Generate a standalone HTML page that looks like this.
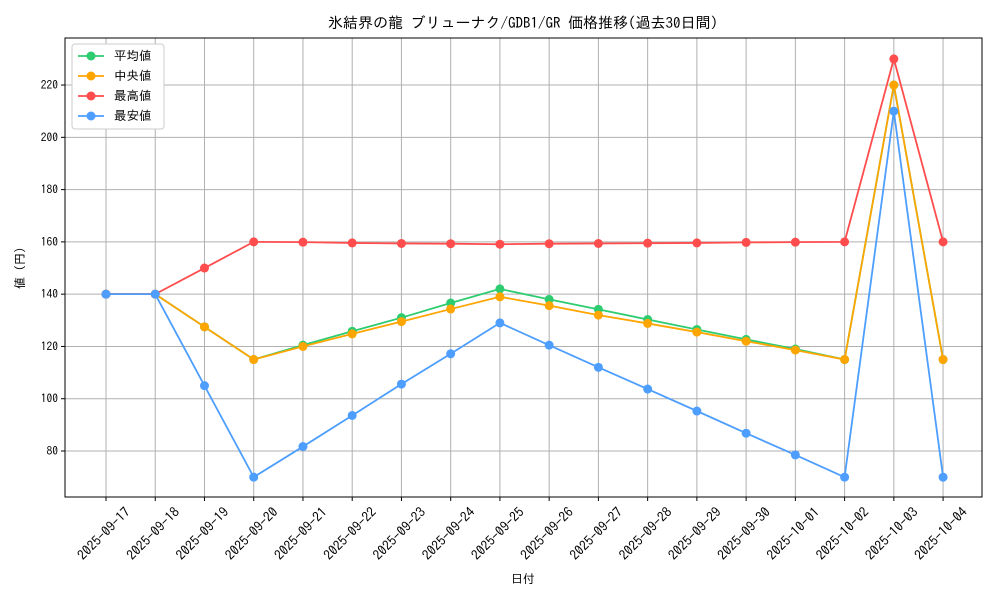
<!DOCTYPE html>
<html><head><meta charset="utf-8"><style>
body{margin:0;background:#fff}
text{font-family:"IPAGothic","Noto Sans CJK JP",monospace;fill:#000}
</style></head><body>
<svg width="1000" height="600" xmlns="http://www.w3.org/2000/svg">
<rect width="1000" height="600" fill="#fff"/>
<g id="g"></g>
<text x="523" y="28" font-size="15" text-anchor="middle">氷結界の龍 ブリューナク/GDB1/GR 価格推移(過去30日間)</text>
<text x="523" y="583" font-size="12" text-anchor="middle">日付</text>
<text x="24" y="268" font-size="12" text-anchor="middle" transform="rotate(-90 24 268)">値 (円)</text>
</svg>
<script>
const ns="http://www.w3.org/2000/svg",g=document.getElementById('g');
function el(t,a,txt){const e=document.createElementNS(ns,t);for(const k in a)e.setAttribute(k,a[k]);if(txt)e.textContent=txt;g.appendChild(e);return e;}
const X=i=>106+i*49.24, Y=v=>451-(v-80)*2.614;
const dates=["2025-09-17","2025-09-18","2025-09-19","2025-09-20","2025-09-21","2025-09-22","2025-09-23","2025-09-24","2025-09-25","2025-09-26","2025-09-27","2025-09-28","2025-09-29","2025-09-30","2025-10-01","2025-10-02","2025-10-03","2025-10-04"];
for(let i=0;i<18;i++){el('line',{x1:X(i),x2:X(i),y1:38,y2:497,stroke:'#b0b0b0','stroke-width':1});
el('line',{x1:X(i),x2:X(i),y1:497,y2:501,stroke:'#000'});
const tx=X(i)+25,ty=513;
el('text',{x:tx,y:ty,'font-size':13.5,'text-anchor':'end',transform:`rotate(-45 ${tx} ${ty})`},dates[i]);}
for(let v=80;v<=220;v+=20){el('line',{x1:65,x2:982,y1:Y(v),y2:Y(v),stroke:'#b0b0b0','stroke-width':1});
el('line',{x1:61,x2:65,y1:Y(v),y2:Y(v),stroke:'#000'});
el('text',{x:58,y:Y(v)+4,'font-size':11.5,'text-anchor':'end'},v);}
el('rect',{x:65,y:38,width:917,height:459,fill:'none',stroke:'#000','stroke-width':1});
const S=[
['#2ecc71','平均値',[140,140,127.5,115,120.5,125.8,131,136.6,142,138,134.2,130.3,126.5,122.7,119,115,220,115]],
['#ffa500','中央値',[140,140,127.5,115,120,124.8,129.5,134.3,139,135.6,132,128.8,125.5,122,118.6,115,220,115]],
['#ff4d4d','最高値',[140,140,150,160,159.9,159.6,159.4,159.3,159.1,159.3,159.4,159.5,159.6,159.8,159.9,160,230,160]],
['#4d9eff','最安値',[140,140,105,70,81.7,93.6,105.6,117.2,129,120.5,112,103.7,95.3,86.8,78.5,70,210,70]]];
S.forEach(([c,n,d])=>{el('polyline',{points:d.map((v,i)=>X(i)+','+Y(v)).join(' '),fill:'none',stroke:c,'stroke-width':1.8});
d.forEach((v,i)=>el('circle',{cx:X(i),cy:Y(v),r:4.5,fill:c}));});
el('rect',{x:72,y:44,width:92,height:85,fill:'#fff',stroke:'#ccc',rx:3});
S.forEach(([c,n],k)=>{const y=56+k*20;el('line',{x1:78,x2:104,y1:y,y2:y,stroke:c,'stroke-width':1.8});
el('circle',{cx:91,cy:y,r:4.5,fill:c});el('text',{x:114,y:y+4,'font-size':12.5},n);});
</script>
</body></html>
